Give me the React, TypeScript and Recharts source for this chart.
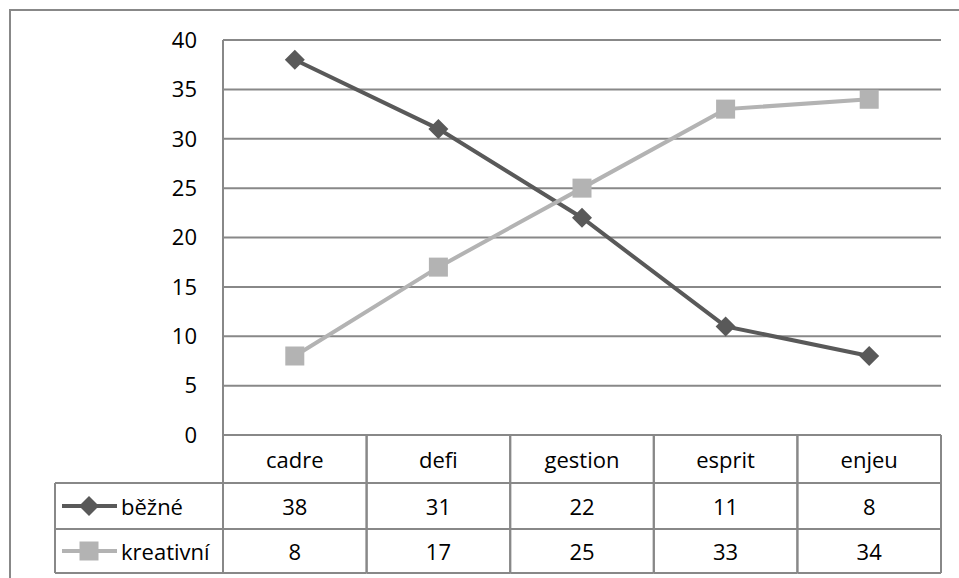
import React from 'react';
import { LineChart, Line, XAxis, YAxis, CartesianGrid } from 'recharts';

const categories = ['cadre', 'defi', 'gestion', 'esprit', 'enjeu'];
const bezne = [38, 31, 22, 11, 8];
const kreativni = [8, 17, 25, 33, 34];
const yTicks = [0, 5, 10, 15, 20, 25, 30, 35, 40];

const seriesNames = ['běžné', 'kreativní'];
const DARK = '#595959';
const LIGHT = '#b3b3b3';
const GRID = '#888888';
const FONT = "'Open Sans', 'Liberation Sans', sans-serif";

const data = categories.map((c, i) => ({ name: c, bezne: bezne[i], kreativni: kreativni[i] }));

const Diamond = (props: any) => {
  const { cx, cy } = props;
  if (cx == null || cy == null) return null;
  return <path d={`M${cx},${cy - 10}L${cx + 10},${cy}L${cx},${cy + 10}L${cx - 10},${cy}Z`} fill={DARK} />;
};

const Square = (props: any) => {
  const { cx, cy } = props;
  if (cx == null || cy == null) return null;
  return <rect x={cx - 9.5} y={cy - 9.5} width={19} height={19} fill={LIGHT} />;
};

// one column of the data table under each category, legend column on the first one
const TableTick = (props: any) => {
  const { x, y, payload, index, width } = props;
  const cw = width / categories.length;
  const left = x - cw / 2;
  const rowH = [48, 46, 44];
  const r1 = y + rowH[0];
  const r2 = r1 + rowH[1];
  const r3 = r2 + rowH[2];
  const txt = { fontFamily: FONT, fontSize: 22, fill: '#000' };
  const line = { stroke: GRID, strokeWidth: 2 };
  const legendW = 168;
  return (
    <g>
      <line x1={left} y1={y} x2={left} y2={r3} {...line} />
      <line x1={left + cw} y1={y} x2={left + cw} y2={r3} {...line} />
      <line x1={left} y1={r1} x2={left + cw} y2={r1} {...line} />
      <line x1={left} y1={r2} x2={left + cw} y2={r2} {...line} />
      <line x1={left} y1={r3} x2={left + cw} y2={r3} {...line} />
      <text x={x} y={y + rowH[0] / 2} textAnchor="middle" dominantBaseline="central" style={txt}>
        {payload.value}
      </text>
      <text x={x} y={r1 + rowH[1] / 2} textAnchor="middle" dominantBaseline="central" style={txt}>
        {bezne[index]}
      </text>
      <text x={x} y={r2 + rowH[2] / 2} textAnchor="middle" dominantBaseline="central" style={txt}>
        {kreativni[index]}
      </text>
      {index === 0 && (
        <g>
          <line x1={left - legendW} y1={r1} x2={left} y2={r1} {...line} />
          <line x1={left - legendW} y1={r2} x2={left} y2={r2} {...line} />
          <line x1={left - legendW} y1={r3} x2={left} y2={r3} {...line} />
          <line x1={left - legendW} y1={r1} x2={left - legendW} y2={r3} {...line} />
          <line x1={left - legendW + 7} y1={r1 + rowH[1] / 2} x2={left - legendW + 62} y2={r1 + rowH[1] / 2} stroke={DARK} strokeWidth={4} />
          <Diamond cx={left - legendW + 34} cy={r1 + rowH[1] / 2} />
          <line x1={left - legendW + 7} y1={r2 + rowH[2] / 2} x2={left - legendW + 62} y2={r2 + rowH[2] / 2} stroke={LIGHT} strokeWidth={4} />
          <Square cx={left - legendW + 34} cy={r2 + rowH[2] / 2} />
          <text x={left - legendW + 66} y={r1 + rowH[1] / 2} dominantBaseline="central" style={txt}>
            {seriesNames[0]}
          </text>
          <text x={left - legendW + 66} y={r2 + rowH[2] / 2} dominantBaseline="central" style={txt}>
            {seriesNames[1]}
          </text>
        </g>
      )}
    </g>
  );
};

export default function App() {
  return (
    <div style={{ position: 'fixed', left: 0, top: 0, width: 959, height: 578, overflow: 'hidden', background: '#fff' }}>
      <div
        style={{
          position: 'absolute',
          left: 9,
          top: 9,
          width: 1000,
          height: 700,
          borderLeft: `2px solid ${GRID}`,
          borderTop: `2px solid ${GRID}`,
        }}
      />
      <div style={{ position: 'absolute', left: 0, top: 0 }}>
        <LineChart width={959} height={578} data={data} margin={{ top: 40, right: 18, bottom: 3, left: 163 }}>
          <CartesianGrid vertical={false} stroke={GRID} strokeWidth={2} />
          <XAxis
            dataKey="name"
            scale="band"
            height={140}
            axisLine={false}
            tickLine={false}
            tickSize={0}
            tickMargin={0}
            interval={0}
            tick={<TableTick />}
          />
          <YAxis
            width={60}
            domain={[0, 40]}
            ticks={yTicks}
            interval={0}
            axisLine={{ stroke: GRID, strokeWidth: 2 }}
            tickLine={false}
            tickSize={0}
            tickMargin={26}
            tick={{ fontFamily: FONT, fontSize: 22, fill: '#000' }}
          />
          <Line
            dataKey="bezne"
            type="linear"
            stroke={DARK}
            strokeWidth={4}
            dot={<Diamond />}
            activeDot={false}
            isAnimationActive={false}
          />
          <Line
            dataKey="kreativni"
            type="linear"
            stroke={LIGHT}
            strokeWidth={4}
            dot={<Square />}
            activeDot={false}
            isAnimationActive={false}
          />
        </LineChart>
      </div>
    </div>
  );
}
